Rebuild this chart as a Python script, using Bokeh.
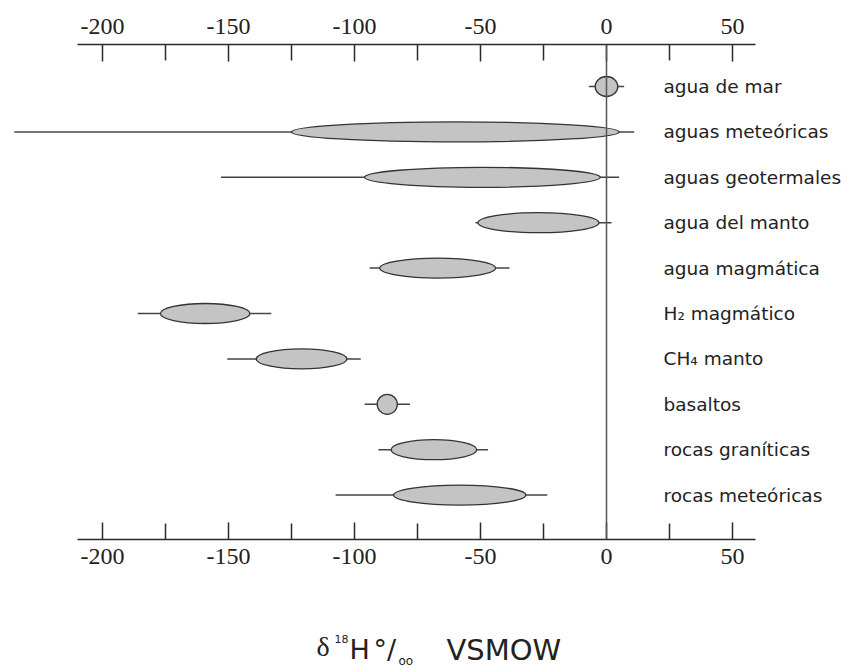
from bokeh.plotting import figure
from bokeh.models import Range1d, LinearAxis, FixedTicker, Span, ColumnDataSource
from bokeh.core.properties import value
from bokeh.embed import file_html
from bokeh.resources import INLINE

# ---------------- data ----------------
categories = ["agua de mar", "aguas meteóricas", "aguas geotermales", "agua del manto",
              "agua magmática", "H₂ magmático", "CH₄ manto", "basaltos",
              "rocas graníticas", "rocas meteóricas"]
ellipse_low = [-4.5, -125, -96, -51, -90, -177, -139, -91, -85.5, -84.5]
ellipse_high = [4.5, 5, -2.5, -3, -44, -141.5, -103, -83, -51.5, -32]
whisker_low = [-7, -235, -153, -52, -94, -186, -150.5, -96, -90.5, -107.5]
whisker_high = [7, 11, 5, 2, -38.5, -133, -97.5, -78, -47, -23.5]
major_ticks = [-200, -150, -100, -50, 0, 50]
minor_ticks = [-175, -125, -75, -25, 25]
tick_labels = ["-200", "-150", "-100", "-50", "0", "50"]

# ---------------- layout helpers ----------------
W, H = 849, 667
PX_PER_UNIT = 2.52
X_AT_M200 = 102.0          # pixel of x = -200
FRAME_TOP, FRAME_BOTTOM = 44, 539
ROW0, ROW_STEP = 86.0, 45.4

X0 = -200 - X_AT_M200 / PX_PER_UNIT
X1 = X0 + W / PX_PER_UNIT


def px2x(px):
    return X0 + px / PX_PER_UNIT


def py2y(py):
    return (py - ROW0) / ROW_STEP


p = figure(width=W, height=H, output_backend="svg", toolbar_location=None,
           x_axis_location=None, y_axis_location=None,
           x_range=Range1d(X0, X1),
           y_range=Range1d(py2y(FRAME_BOTTOM), py2y(FRAME_TOP)),
           min_border_left=0, min_border_right=0,
           min_border_top=FRAME_TOP, min_border_bottom=H - FRAME_BOTTOM)
p.outline_line_color = None
p.xgrid.visible = False
p.ygrid.visible = False
p.background_fill_color = "white"
p.border_fill_color = "white"

ticker = FixedTicker(ticks=major_ticks, minor_ticks=minor_ticks)
overrides = {t: l for t, l in zip(major_ticks, tick_labels)}

for loc, standoff in (("above", 11), ("below", 9)):
    ax = LinearAxis(ticker=ticker, bounds=(px2x(77), px2x(755)))
    ax.major_label_overrides = overrides
    ax.axis_line_color = "#2a2a2a"
    ax.axis_line_width = 1.5
    ax.major_tick_line_color = "#2a2a2a"
    ax.major_tick_line_width = 1.5
    ax.minor_tick_line_color = "#2a2a2a"
    ax.minor_tick_line_width = 1.5
    ax.major_tick_out = 0
    ax.major_tick_in = 17
    ax.minor_tick_out = 0
    ax.minor_tick_in = 16
    ax.major_label_standoff = standoff
    ax.major_label_text_font = "Liberation Serif"
    ax.major_label_text_font_size = "24px"
    ax.major_label_text_color = "#222222"
    p.add_layout(ax, loc)

# vertical zero line
p.add_layout(Span(location=0, dimension="height", line_color="#555555", line_width=1.5))

rows = list(range(len(categories)))
centers = [(a + b) / 2 for a, b in zip(ellipse_low, ellipse_high)]
widths = [b - a for a, b in zip(ellipse_low, ellipse_high)]
src = ColumnDataSource(dict(y=rows, c=centers, w=widths, wl=whisker_low, wh=whisker_high,
                            name=categories))

p.segment(x0="wl", x1="wh", y0="y", y1="y", source=src, line_color="#444444", line_width=1.5)
p.ellipse(x="c", y="y", width="w", height=20 / ROW_STEP, source=src,
          fill_color="#c4c4c4", line_color="#333333", line_width=1.3)

p.text(x=px2x(663), y="y", text="name", source=src, text_font=value("DejaVu Sans"),
       text_font_size="18.5px", text_baseline="middle", text_align="left", text_color="#222222")

# axis title (composed of pieces); y = vertical middle of each piece
label_parts = [
    ("δ", 316, 646, "Liberation Serif", "28px", "normal"),
    ("18", 334, 638, "DejaVu Sans", "11px", "normal"),
    ("H", 349, 649, "DejaVu Sans", "27px", "normal"),
    ("°/", 373, 649, "DejaVu Sans", "27px", "normal"),
    ("oo", 398, 660, "DejaVu Sans", "12px", "normal"),
    ("VSMOW", 446, 649, "DejaVu Sans", "29px", "normal"),
]
for txt, lx, ly, fnt, fs, fstyle in label_parts:
    p.text(x=[px2x(lx)], y=[py2y(ly)], text=[txt], text_font=value(fnt), text_font_size=fs,
           text_font_style=fstyle, text_baseline="middle", text_align="left",
           text_color="#222222", level="overlay")

open("out.html", "w").write(file_html(p, INLINE))
